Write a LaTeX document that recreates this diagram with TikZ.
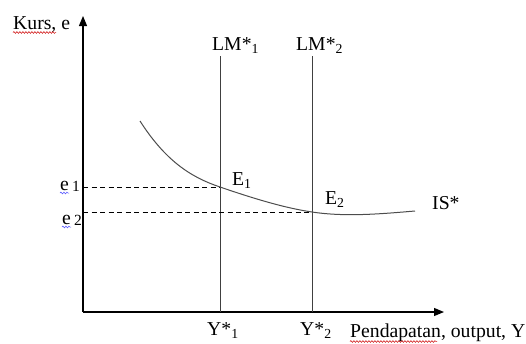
\documentclass[tikz,border=0pt]{standalone}
\usepackage{fontspec}
\setmainfont{Liberation Serif}
\usetikzlibrary{arrows.meta,decorations.pathmorphing}
\begin{document}
\begin{tikzpicture}[x=1pt,y=-1pt,
  lbl/.style={anchor=base west,inner sep=0pt,font=\fontsize{19.7}{22}\selectfont},
  axis/.style={line width=1.1pt,black,-{Triangle[length=10pt,width=8pt]}},
  lmline/.style={line width=1pt,black!75},
  guide/.style={line width=0.9pt,black,dash pattern=on 5pt off 3.5pt},
  iscurve/.style={line width=1pt,black!70},
  redwave/.style={red!80!black,line width=0.5pt,decorate,decoration={snake,amplitude=0.9pt,segment length=3pt}},
  bluewave/.style={blue!70,line width=0.5pt,decorate,decoration={snake,amplitude=0.9pt,segment length=3pt}}]
\useasboundingbox (0,0) rectangle (526,343);
% coordinates
\coordinate (O) at (83,312);
\coordinate (ytop) at (83,16);
\coordinate (xend) at (444,312);
\coordinate (lm1top) at (220,56);
\coordinate (lm1bot) at (220,312);
\coordinate (lm2top) at (312,56);
\coordinate (lm2bot) at (312,312);
\coordinate (E1) at (220,187);
\coordinate (E2) at (312,212);
\coordinate (ax1) at (83,187);
\coordinate (ax2) at (83,212);
\coordinate (isstart) at (140,121);
\coordinate (isend) at (415,211);
% axes
\draw[axis] (O) -- (ytop);
\draw[axis] (O) -- (xend);
% LM lines
\draw[lmline] (lm1top) -- (lm1bot);
\draw[lmline] (lm2top) -- (lm2bot);
% dashed guides
\draw[guide] (ax1) -- (E1);
\draw[guide] (ax2) -- (E2);
% IS curve
\draw[iscurve] (isstart) .. controls (165,160) and (190,177) .. (E1)
  .. controls (255,199) and (285,208) .. (E2)
  .. controls (345,217) and (380,214) .. (isend);
% labels
\node[lbl] (kurs) at (13,29) {Kurs, e};
\node[lbl] (lm1) at (212,50) {LM*\textsubscript{1}};
\node[lbl] (lm2) at (296,50) {LM*\textsubscript{2}};
\node[lbl] (e1l) at (232,185) {E\textsubscript{1}};
\node[lbl] (e2l) at (325,204) {E\textsubscript{2}};
\node[lbl] (is) at (432,209) {IS*};
\node[lbl] (ee1) at (60,190) {e\,\raisebox{-1pt}{\fontsize{15.5}{15}\selectfont 1}};
\node[lbl] (ee2) at (62,224) {e\,\raisebox{-1pt}{\fontsize{15.5}{15}\selectfont 2}};
\node[lbl] (y1) at (207,335) {Y*\textsubscript{1}};
\node[lbl] (y2) at (300,335) {Y*\textsubscript{2}};
\node[lbl] (pend) at (350,337) {Pendapatan, output, Y};
% spell-check wavy underlines
\draw[redwave] (13,32.5) -- (56,32.5);
\draw[redwave] (350,341.5) -- (437,341.5);
\draw[bluewave] (60,193) -- (69,193);
\draw[bluewave] (62,227) -- (71,227);
\end{tikzpicture}
\end{document}
